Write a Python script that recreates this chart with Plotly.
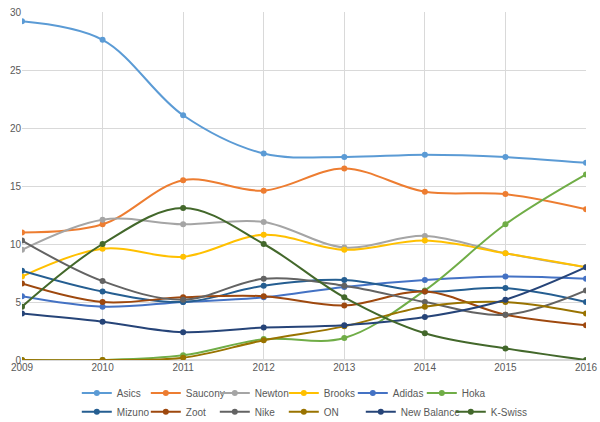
import plotly.graph_objects as go

years = [2009, 2010, 2011, 2012, 2013, 2014, 2015, 2016]

asics       = [29.2, 27.6, 21.1, 17.8, 17.5, 17.7, 17.5, 17.0]
saucony     = [11.0, 11.7, 15.5, 14.6, 16.5, 14.5, 14.3, 13.0]
newton      = [9.5, 12.1, 11.7, 11.9, 9.7, 10.7, 9.2, 8.0]
brooks      = [7.2, 9.6, 8.9, 10.8, 9.5, 10.3, 9.2, 8.0]
adidas      = [5.5, 4.6, 5.0, 5.4, 6.3, 6.9, 7.2, 7.0]
hoka        = [0.0, 0.0, 0.4, 1.8, 1.9, 6.0, 11.7, 16.0]
mizuno      = [7.7, 5.9, 5.0, 6.4, 6.9, 5.9, 6.2, 5.0]
zoot        = [6.6, 5.0, 5.4, 5.5, 4.7, 5.9, 3.9, 3.0]
nike        = [10.3, 6.8, 5.2, 7.0, 6.4, 5.0, 3.9, 6.0]
on_running  = [0.0, 0.0, 0.2, 1.7, 2.9, 4.6, 5.0, 4.0]
new_balance = [4.0, 3.3, 2.4, 2.8, 3.0, 3.7, 5.2, 8.0]
k_swiss     = [4.6, 10.0, 13.1, 10.0, 5.4, 2.3, 1.0, 0.0]

series = [
    ("Asics", asics, "#5B9BD5"),
    ("Saucony", saucony, "#ED7D31"),
    ("Newton", newton, "#A5A5A5"),
    ("Brooks", brooks, "#FFC000"),
    ("Adidas", adidas, "#4472C4"),
    ("Hoka", hoka, "#70AD47"),
    ("Mizuno", mizuno, "#255E91"),
    ("Zoot", zoot, "#9E480E"),
    ("Nike", nike, "#636363"),
    ("ON", on_running, "#997300"),
    ("New Balance", new_balance, "#264478"),
    ("K-Swiss", k_swiss, "#43682B"),
]

FONT = "Liberation Sans, Arial, sans-serif"
TXT = "#595959"

fig = go.Figure()
for i, (name, vals, color) in enumerate(series):
    if i < 6:
        leg = "legend"
    elif i < 10:
        leg = "legend2"
    elif i == 10:
        leg = "legend4"   # long labels at the row end get their own legend
    else:
        leg = "legend3"
    fig.add_trace(go.Scatter(
        x=years, y=vals, name=name,
        mode="lines+markers",
        line=dict(color=color, width=2, shape="spline", smoothing=1),
        marker=dict(color=color, size=6),
        legend=leg,
    ))

# legends placed in container coords so they don't shrink the plot
leg_common = dict(
    orientation="h", xanchor="left", yanchor="middle",
    xref="container", yref="container",
    x=0.128, entrywidth=24, entrywidthmode="pixels",
    itemwidth=30, bgcolor="rgba(0,0,0,0)",
    font=dict(family=FONT, size=10, color=TXT),
    tracegroupgap=0, traceorder="normal",
)
leg_nb = dict(leg_common, x=0.128 + 4 * 71 / 600, y=0.024)
leg_ks = dict(leg_common, x=0.128 + 4 * 71 / 600 + 90 / 600, y=0.024)
for d in (leg_nb, leg_ks):
    d.pop("entrywidth")
    d.pop("entrywidthmode")

fig.update_xaxes(
    range=[2009, 2016], tickmode="array", tickvals=years,
    showgrid=True, gridcolor="#D9D9D9", gridwidth=1,
    zeroline=False, showline=False, automargin=False,
    tickfont=dict(family=FONT, size=10, color=TXT),
)
fig.update_yaxes(
    range=[0, 30], dtick=5,
    showgrid=True, gridcolor="#D9D9D9", gridwidth=1,
    zeroline=True, zerolinecolor="#D9D9D9", showline=False, automargin=False,
    tickfont=dict(family=FONT, size=10, color=TXT),
)
fig.update_layout(
    width=600, height=422,
    margin=dict(l=22, r=14, t=12, b=62),
    paper_bgcolor="white", plot_bgcolor="white",
    legend=dict(leg_common, y=0.069),
    legend2=dict(leg_common, y=0.024),
    legend3=leg_ks,
    legend4=leg_nb,
    showlegend=True,
)
# drop the default 8px body margin so the figure sits at the window's corner
fig.write_html("out.html", config={"displayModeBar": False},
               post_script="document.body.style.margin='0px';")
